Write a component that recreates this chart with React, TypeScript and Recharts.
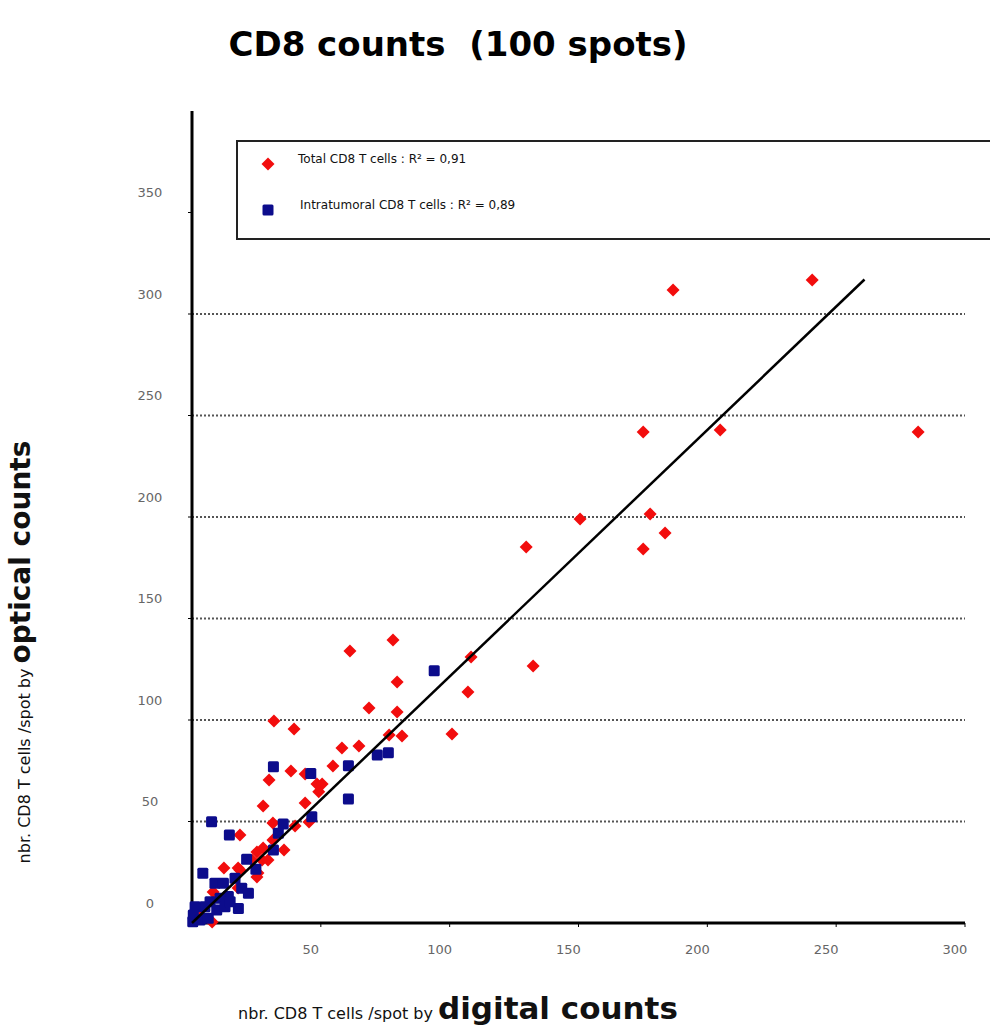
import {
  ScatterChart,
  Scatter,
  XAxis,
  YAxis,
  CartesianGrid,
  Legend,
} from "recharts";

// [digital, optical] counts per spot
const totalCells: [number, number][] = [
  [240.7, 316.7], [186.7, 311.8], [281.8, 241.9], [205.0, 242.9], [175.1, 241.9],
  [150.6, 199.0], [177.8, 201.5], [183.6, 192.1], [175.1, 184.2], [129.7, 185.2],
  [132.4, 126.6], [108.3, 131.0], [107.1, 113.8], [100.9, 93.1], [61.3, 134.0],
  [78.0, 139.4], [79.6, 118.7], [79.6, 103.9], [81.5, 92.1], [68.7, 105.9],
  [58.2, 86.2], [64.8, 87.2], [76.5, 92.6], [31.8, 99.5], [39.6, 95.6],
  [54.7, 77.3], [38.4, 74.9], [29.9, 70.4], [43.9, 73.4], [48.5, 68.5],
  [50.5, 68.5], [49.2, 64.6], [43.9, 59.1], [27.6, 57.6], [31.4, 49.3],
  [40.0, 47.8], [45.4, 49.8], [18.6, 43.3], [35.7, 36.0], [31.4, 40.9],
  [25.2, 35.0], [27.6, 36.9], [23.3, 31.0], [27.2, 31.0], [29.5, 31.0],
  [12.4, 27.1], [17.9, 27.1], [18.6, 26.1], [25.6, 24.6], [17.9, 17.2],
  [8.2, 15.3], [25.2, 22.7], [7.8, 0.5], [3.1, 3.0],
];

const intraCells: [number, number][] = [
  [94.0, 124.3], [31.6, 77.0], [60.7, 77.5], [46.1, 73.7], [71.9, 82.8],
  [76.2, 83.9], [60.7, 61.1], [46.5, 52.4], [7.6, 49.9], [14.5, 43.3],
  [35.4, 48.8], [33.5, 44.2], [31.6, 36.0], [21.2, 31.4], [24.8, 26.5],
  [4.2, 24.5], [8.9, 19.6], [12.2, 19.6], [16.7, 22.0], [19.3, 17.1],
  [14.1, 13.0], [18.0, 7.2], [10.9, 12.2], [7.0, 10.5], [5.0, 8.0],
  [1.2, 8.0], [0.5, 3.9], [0.3, 0.6], [3.1, 1.5], [6.3, 2.3],
  [9.6, 6.4], [12.8, 8.0], [14.8, 10.5], [21.9, 14.6],
];

// trend line end points
const fitLine: [number, number][] = [
  [0, 0],
  [261, 317],
];

const xTicks = [50, 100, 150, 200, 250, 300];
const yTicks = [0, 50, 100, 150, 200, 250, 300, 350];
const gridValues = [50, 100, 150, 200, 250, 300];

const legendItems = [
  { key: "total", label: "Total CD8 T cells : R² = 0,91", shape: "diamond" },
  { key: "intra", label: "Intratumoral CD8 T cells : R² = 0,89", shape: "square" },
];

const RED = "#f20d0d";
const BLUE = "#0c0c8c";

const toPoints = (rows: [number, number][]) => rows.map(([x, y]) => ({ x, y }));

const Diamond = (props: any) => {
  const { cx, cy } = props;
  const r = 6.5;
  return (
    <polygon
      points={`${cx},${cy - r} ${cx + r},${cy} ${cx},${cy + r} ${cx - r},${cy}`}
      fill={RED}
    />
  );
};

const Square = (props: any) => {
  const { cx, cy } = props;
  return <rect x={cx - 5.5} y={cy - 5.5} width={11} height={11} rx={1.5} fill={BLUE} />;
};

const YTick = (props: any) => {
  const { x, y, payload } = props;
  return (
    <text x={x - 36} y={y - 20} textAnchor="middle" dominantBaseline="central"
      fontFamily="DejaVu Sans" fontSize={13} fill="#666">
      {payload.value}
    </text>
  );
};

const XTick = (props: any) => {
  const { x, y, payload } = props;
  return (
    <text x={x - 10} y={y + 20} textAnchor="middle" dominantBaseline="central"
      fontFamily="DejaVu Sans" fontSize={13} fill="#666">
      {payload.value}
    </text>
  );
};

const XTitle = () => (
  <text x={458} y={1019} textAnchor="middle" fontFamily="DejaVu Sans" fill="#111">
    <tspan fontSize={16}>nbr. CD8 T cells /spot by </tspan>
    <tspan fontSize={31} fontWeight="bold">digital counts</tspan>
  </text>
);

const YTitle = () => (
  <text x={30} y={652} transform="rotate(-90, 30, 652)" textAnchor="middle"
    fontFamily="DejaVu Sans" fill="#111">
    <tspan fontSize={16}>nbr. CD8 T cells /spot by </tspan>
    <tspan fontSize={28} fontWeight="bold">optical counts</tspan>
  </text>
);

const LegendBox = () => (
  <div
    style={{
      position: "relative",
      border: "2px solid #222",
      height: 100,
      boxSizing: "border-box",
      fontFamily: "DejaVu Sans",
      fontSize: 12,
      color: "#111",
    }}
  >
    {legendItems.map((item, i) => (
      <div key={item.key} style={{ position: "absolute", left: 0, top: 10 + i * 46, height: 20, display: "flex", alignItems: "center" }}>
        <svg width={60} height={20}>
          {item.shape === "diamond" ? <Diamond cx={30} cy={12} /> : <Square cx={30} cy={12} />}
        </svg>
        <span style={{ marginTop: -6, marginLeft: i === 0 ? 0 : 2 }}>{item.label}</span>
      </div>
    ))}
  </div>
);

export default function App() {
  return (
    <div style={{ position: "absolute", left: 0, top: 0, width: 990, height: 1027, background: "#fff" }}>
      <div
        style={{
          position: "absolute",
          left: 0,
          width: 916,
          top: 24,
          textAlign: "center",
          fontFamily: "DejaVu Sans",
          fontWeight: "bold",
          fontSize: 34,
          color: "#000",
          whiteSpace: "pre",
        }}
      >
        {"CD8 counts  (100 spots)"}
      </div>
      <div style={{ position: "absolute", left: 0, top: 0 }}>
        <ScatterChart width={990} height={1027} margin={{ top: 111, right: 25, bottom: 44, left: 0 }}>
          <CartesianGrid
            vertical={false}
            horizontalValues={gridValues}
            stroke="#555"
            strokeWidth={2}
            strokeDasharray="2 2"
          />
          <XAxis
            type="number"
            dataKey="x"
            domain={[0, 300]}
            ticks={xTicks}
            height={60}
            axisLine={{ stroke: "#000", strokeWidth: 3 }}
            tickLine={{ stroke: "#000" }}
            tickSize={4}
            tick={<XTick />}
            label={<XTitle />}
          />
          <YAxis
            type="number"
            dataKey="y"
            domain={[0, 400]}
            ticks={yTicks}
            width={192}
            axisLine={{ stroke: "#000", strokeWidth: 3 }}
            tickLine={{ stroke: "#000" }}
            tickSize={4}
            tick={<YTick />}
            label={<YTitle />}
          />
          <Legend
            layout="horizontal"
            verticalAlign="middle"
            content={<LegendBox />}
            wrapperStyle={{ left: 236, top: 140, width: 770, height: 100 }}
          />
          <Scatter name="total" data={toPoints(totalCells)} shape={<Diamond />} isAnimationActive={false} />
          <Scatter name="intra" data={toPoints(intraCells)} shape={<Square />} isAnimationActive={false} />
          <Scatter
            name="fit"
            data={toPoints(fitLine)}
            line={{ stroke: "#000", strokeWidth: 2.5 }}
            shape={() => <g />}
            legendType="none"
            isAnimationActive={false}
          />
        </ScatterChart>
      </div>
    </div>
  );
}
